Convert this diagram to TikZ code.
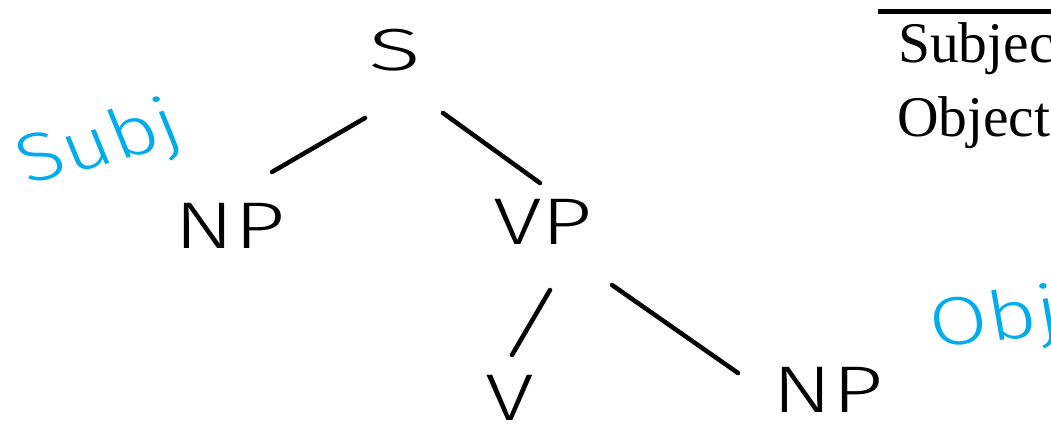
\documentclass[tikz,border=0pt]{standalone}
\usepackage{fontspec}
\setmainfont{Liberation Serif}
\newfontfamily\handfont{Fira Sans Light}
\usetikzlibrary{calc}
\definecolor{handblue}{RGB}{0,172,236}
\tikzset{
  hw/.style={font=\handfont\fontsize{66}{70}\selectfont, inner sep=0pt, text=black, xscale=1.35},
  note/.style={font=\handfont\fontsize{68}{70}\selectfont, inner sep=0pt, text=handblue, xscale=1.25},
  edge/.style={line width=4.5pt, line cap=round, black},
  printed/.style={font=\fontsize{57.5}{60}\selectfont, inner sep=0pt, anchor=base west}
}
\begin{document}
\begin{tikzpicture}[x=1pt,y=-1pt]
\useasboundingbox (0,0) rectangle (1051,436);
\clip (0,0) rectangle (1051,436);
\node[hw, xscale=1.1, yscale=0.9] (S) at (395,50) {S};
\node[hw] (NPa) at (230,226) {NP};
\node[hw] (VP) at (543,222) {VP};
\node[hw] (V) at (510,398) {V};
\node[hw] (NPb) at (828,390) {NP};
\node[note, rotate=18] (subj) at (100,146) {Subj};
\node[note, rotate=8] (obj) at (995,322) {Obj};
\draw[edge] ($(S)+(-30,68)$) -- ($(NPa)+(42,-54)$);
\draw[edge] ($(S)+(48,63)$) -- ($(VP)+(-3,-39)$);
\draw[edge] ($(VP)+(7,68)$) -- ($(V)+(2,-43)$);
\draw[edge] ($(VP)+(69,63)$) -- ($(NPb)+(-90,-17)$);
\coordinate (ruleL) at (878,12);
\coordinate (ruleR) at (1051,12);
\draw[line width=5pt] (ruleL) -- (ruleR);
\node[printed] (subjec) at (898,63) {Subject};
\node[printed] (object) at (897,136) {Object};
\end{tikzpicture}
\end{document}
